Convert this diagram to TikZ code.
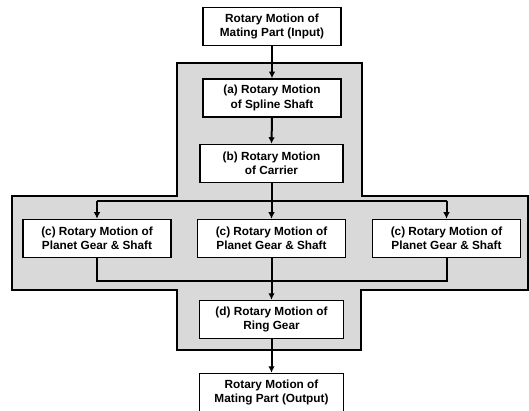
\documentclass[tikz,border=0pt]{standalone}
\usepackage{fontspec}
\setmainfont{Liberation Sans}
\usetikzlibrary{arrows.meta}
\tikzset{
  stagebox/.style={draw=black, line width=1.5pt, fill=white, minimum height=38pt,
    inner sep=1pt, align=center, font=\fontsize{11.8}{14.5}\selectfont\bfseries},
  flow/.style={line width=2pt},
  flowarrow/.style={line width=2pt, -{Latex[length=6.5pt,width=6.5pt]}},
  region/.style={draw=black, line width=1.3pt, fill=black!15}
}
\begin{document}
\begin{tikzpicture}[x=1pt,y=-1pt]
\useasboundingbox (0,0) rectangle (529,411);
% shaded region
\draw[region] (177,63) -- (362,63) -- (362,196) -- (528,196) -- (528,290) -- (361,290)
  -- (361,350) -- (177,350) -- (177,290) -- (12,290) -- (12,196) -- (177,196) -- cycle;
% nodes
\node[stagebox, minimum width=138pt] (in) at (272,26.5) {Rotary Motion of\\Mating Part (Input)};
\node[stagebox, minimum width=138pt] (a) at (272,98) {(a) Rotary Motion\\of Spline Shaft};
\node[stagebox, minimum width=143pt] (b) at (271.5,163.5) {(b) Rotary Motion\\of Carrier};
\node[stagebox, minimum width=148pt] (c1) at (97,238.5) {(c) Rotary Motion of\\Planet Gear \& Shaft};
\node[stagebox, minimum width=148pt] (c2) at (271.5,238.5) {(c) Rotary Motion of\\Planet Gear \& Shaft};
\node[stagebox, minimum width=148pt] (c3) at (446.5,238.5) {(c) Rotary Motion of\\Planet Gear \& Shaft};
\node[stagebox, minimum width=144pt] (d) at (271.5,319.5) {(d) Rotary Motion of\\Ring Gear};
\node[stagebox, minimum width=144pt] (out) at (271.5,392.5) {Rotary Motion of\\Mating Part (Output)};
% split / merge points
\coordinate (sl) at (97,201);
\coordinate (sr) at (446.5,201);
\coordinate (ml) at (97,281);
\coordinate (mr) at (446.5,281);
% connectors
\draw[flowarrow] (in.south) -- (a.north);
\draw[flowarrow] (a.south) -- (b.north);
\draw[flowarrow] (b.south) -- (c2.north);
\draw[flow] (sl) -- (sr);
\draw[flowarrow] (sl) -- (c1.north);
\draw[flowarrow] (sr) -- (c3.north);
\draw[flow] (c1.south) -- (ml) -- (mr) -- (c3.south);
\draw[flowarrow] (c2.south) -- (d.north);
\draw[flowarrow] (d.south) -- (out.north);
\end{tikzpicture}
\end{document}
